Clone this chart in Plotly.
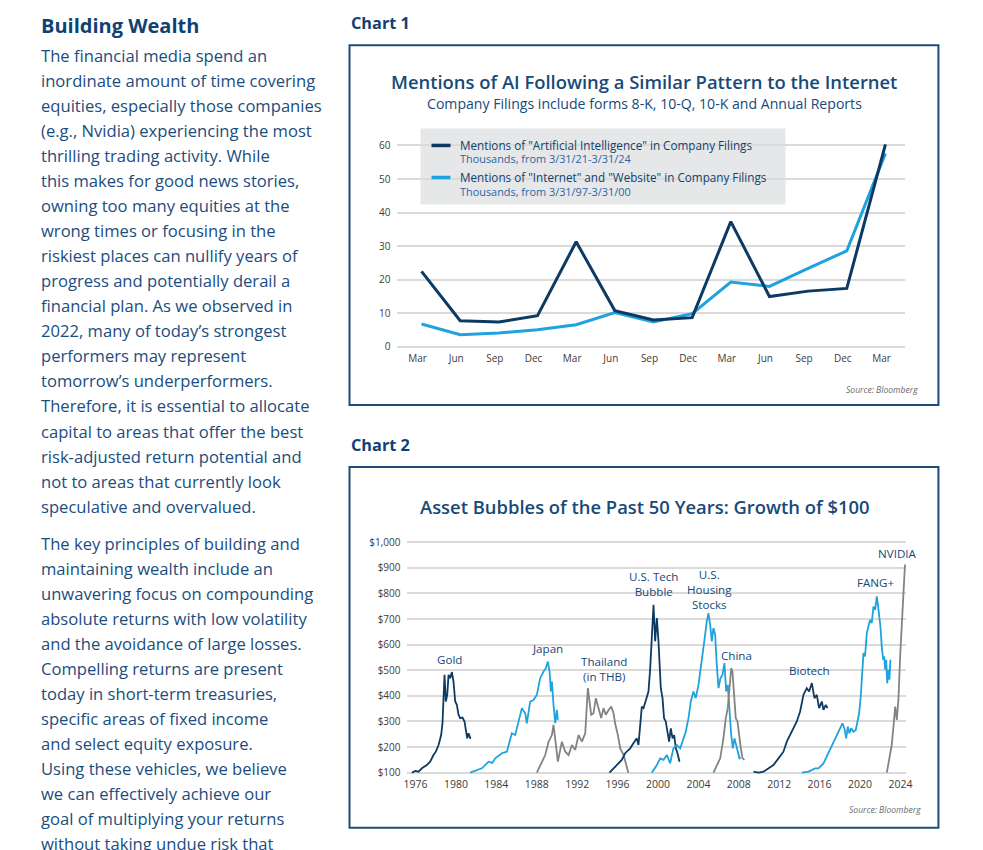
import plotly.graph_objects as go

W, H = 983, 850
FONT = "Open Sans"
NAVY = "#0d3a62"
LIGHT = "#1fa3de"
GRAY = "#838383"
TXT = "#1b4d7e"
TITLE = "#174a78"
BORDER = "#1f4c78"
GRID = "#dadada"
TICK = "#3c3c3c"

# ---------------- Chart 1 data ----------------
c1_labels = ["Mar", "Jun", "Sep", "Dec", "Mar", "Jun", "Sep", "Dec", "Mar", "Jun", "Sep", "Dec", "Mar"]
ai_mentions = [22.5, 7.8, 7.4, 9.3, 31.3, 10.8, 8.0, 8.7, 37.3, 15.0, 16.6, 17.4, 60.3]
internet_mentions = [6.8, 3.6, 4.1, 5.1, 6.6, 10.2, 7.4, 9.9, 19.3, 18.0, 23.4, 28.6, 57.6]
ai_name = 'Mentions of "Artificial Intelligence" in Company Filings'
ai_sub = "Thousands, from 3/31/21-3/31/24"
net_name = 'Mentions of "Internet" and "Website" in Company Filings'
net_sub = "Thousands, from 3/31/97-3/31/00"

# ---------------- Chart 2 data (growth of $100) ----------------
gold_x = [1975.64, 1975.97, 1976.30, 1976.63, 1977.12, 1977.45, 1977.78, 1978.01, 1978.28, 1978.54, 1978.67,
          1978.87, 1979.00, 1979.14, 1979.27, 1979.43, 1979.60, 1979.76, 1979.93, 1980.09, 1980.26, 1980.42,
          1980.65, 1980.85, 1980.98, 1981.12, 1981.25, 1981.45]
gold_y = [100, 107, 104, 117, 130, 143, 169, 182, 208, 247, 293,
          482, 378, 404, 482, 469, 493, 456, 378, 365, 326, 313,
          315, 300, 267, 234, 254, 232]

japan_x = [1981.41, 1981.9, 1982.57, 1983.23, 1983.6, 1983.89, 1984.55, 1985.04, 1985.21, 1985.54, 1985.87,
           1986.20, 1986.53, 1986.86, 1987.02, 1987.35, 1987.68, 1988.01, 1988.34, 1988.67, 1988.90,
           1989.10, 1989.27, 1989.40, 1989.50, 1989.66, 1989.83, 1989.99, 1990.09]
japan_y = [100, 108, 117, 143, 138, 156, 176, 182, 208, 254, 247,
           300, 352, 332, 293, 378, 384, 404, 469, 495, 508,
           534, 495, 417, 456, 365, 293, 345, 306]

thai_x = [1988.01, 1988.51, 1988.84, 1989.17, 1989.50, 1989.66, 1989.89, 1990.09, 1990.49, 1990.82, 1991.15,
          1991.48, 1991.81, 1992.14, 1992.47, 1992.80, 1993.06, 1993.19, 1993.39, 1993.62, 1993.85, 1994.12,
          1994.38, 1994.61, 1994.84, 1995.11, 1995.37, 1995.60, 1995.77, 1996.03, 1996.26, 1996.59, 1996.80,
          1997.07]
thai_y = [100, 143, 169, 221, 247, 287, 221, 143, 221, 182, 169,
          208, 189, 247, 221, 254, 430, 391, 326, 332, 391, 352,
          313, 352, 326, 345, 358, 332, 290, 247, 195, 170, 140,
          100]

tech_x = [1995.2, 1995.93, 1996.42, 1996.75, 1997.25, 1997.57, 1997.9, 1998.07, 1998.24, 1998.4, 1998.57,
          1998.9, 1999.06, 1999.23, 1999.39, 1999.56, 1999.72, 1999.89, 2000.05, 2000.15, 2000.28, 2000.45,
          2000.6, 2000.77, 2000.94, 2001.1, 2001.27, 2001.44, 2001.6, 2001.77, 2001.93, 2002.13]
tech_y = [100, 130, 150, 176, 195, 215, 234, 208, 273, 358, 352,
          391, 417, 508, 639, 756, 613, 704, 613, 547, 430, 391,
          313, 300, 260, 221, 273, 234, 247, 195, 176, 143]

housing_x = [1999.39, 1999.89, 2000.22, 2000.55, 2000.88, 2001.2, 2001.53, 2001.86, 2002.2, 2002.52, 2002.75,
             2003.02, 2003.25, 2003.51, 2003.74, 2004.01, 2004.24, 2004.5, 2004.67, 2004.83, 2005.0, 2005.16,
             2005.33, 2005.49, 2005.66, 2005.82, 2005.99, 2006.19, 2006.38, 2006.58, 2006.75, 2006.91, 2007.08,
             2007.25, 2007.41, 2007.57, 2007.74, 2007.9, 2008.07, 2008.2]
housing_y = [100, 130, 156, 150, 169, 137, 195, 208, 195, 234, 260,
             313, 378, 417, 391, 443, 508, 573, 639, 691, 723, 678,
             613, 665, 639, 521, 430, 469, 482, 528, 417, 443, 326,
             247, 195, 234, 208, 182, 156, 159]

china_x = [2005.49, 2005.82, 2006.16, 2006.48, 2006.71, 2006.91, 2007.08, 2007.25, 2007.37, 2007.54, 2007.7,
           2007.87, 2008.04, 2008.2, 2008.37, 2008.56]
china_y = [100, 130, 156, 234, 313, 352, 443, 508, 495, 417, 313,
           300, 234, 195, 156, 150]

biotech_x = [2009.45, 2009.95, 2010.44, 2010.94, 2011.43, 2011.93, 2012.42, 2012.75, 2013.08, 2013.41, 2013.74,
             2014.07, 2014.40, 2014.73, 2014.96, 2015.23, 2015.49, 2015.72, 2015.95, 2016.22, 2016.38, 2016.61,
             2016.78]
biotech_y = [104, 100, 104, 117, 130, 156, 182, 221, 247, 274, 300,
             339, 404, 430, 417, 450, 391, 404, 352, 378, 345, 365,
             352]

fang_x = [2014.24, 2014.90, 2015.56, 2015.89, 2016.38, 2016.71, 2017.04, 2017.37, 2017.6, 2017.86, 2018.1,
          2018.26, 2018.46, 2018.63, 2018.79, 2018.95, 2019.12, 2019.35, 2019.58, 2019.78, 2019.91, 2020.07,
          2020.24, 2020.34, 2020.5, 2020.67, 2020.83, 2021.0, 2021.16, 2021.33, 2021.5, 2021.66, 2021.75,
          2021.89, 2022.02, 2022.15, 2022.29, 2022.39, 2022.49, 2022.59, 2022.69, 2022.81, 2022.91, 2023.01]
fang_y = [100, 104, 117, 117, 136, 163, 189, 215, 234, 260, 280,
          293, 273, 234, 280, 254, 273, 260, 267, 306, 332, 397,
          488, 567, 554, 645, 671, 697, 684, 749, 736, 789, 762,
          723, 671, 593, 541, 554, 502, 541, 449, 502, 463, 541]

nvda_x = [2022.65, 2022.81, 2022.98, 2023.14, 2023.31, 2023.48, 2023.64, 2023.8, 2023.97, 2024.07, 2024.2,
          2024.3, 2024.4, 2024.45]
nvda_y = [100, 136, 189, 208, 280, 358, 306, 384, 554, 632, 697,
          815, 906, 913]

bubbles = [
    ("Gold", gold_x, gold_y, NAVY),
    ("Japan", japan_x, japan_y, LIGHT),
    ("Thailand<br>(in THB)", thai_x, thai_y, GRAY),
    ("U.S. Tech<br>Bubble", tech_x, tech_y, NAVY),
    ("U.S.<br>Housing<br>Stocks", housing_x, housing_y, LIGHT),
    ("China", china_x, china_y, GRAY),
    ("Biotech", biotech_x, biotech_y, NAVY),
    ("FANG+", fang_x, fang_y, LIGHT),
    ("NVIDIA", nvda_x, nvda_y, GRAY),
]
# label placement (year, value) for each bubble label
label_pos = {
    "Gold": (1979.36, 542), "Japan": (1989.06, 585), "Thailand<br>(in THB)": (1994.61, 505),
    "U.S. Tech<br>Bubble": (1999.55, 836), "U.S.<br>Housing<br>Stocks": (2005.1, 816),
    "China": (2007.77, 558), "Biotech": (2015.0, 499), "FANG+": (2021.53, 842), "NVIDIA": (2023.7, 957),
}

c2_years = list(range(1976, 2025, 4))
c2_vals = list(range(100, 1001, 100))
c2_valtext = ["${:,}".format(v) for v in c2_vals]

# ---------------- body text ----------------
heading = "Building Wealth"
para1 = ["The financial media spend an", "inordinate amount of time covering",
         "equities, especially those companies", "(e.g., Nvidia) experiencing the most",
         "thrilling trading activity. While", "this makes for good news stories,",
         "owning too many equities at the", "wrong times or focusing in the",
         "riskiest places can nullify years of", "progress and potentially derail a",
         "financial plan. As we observed in", "2022, many of today\u2019s strongest",
         "performers may represent", "tomorrow\u2019s underperformers.",
         "Therefore, it is essential to allocate", "capital to areas that offer the best",
         "risk-adjusted return potential and", "not to areas that currently look",
         "speculative and overvalued."]
para2 = ["The key principles of building and", "maintaining wealth include an",
         "unwavering focus on compounding", "absolute returns with low volatility",
         "and the avoidance of large losses.", "Compelling returns are present",
         "today in short-term treasuries,", "specific areas of fixed income",
         "and select equity exposure.", "Using these vehicles, we believe",
         "we can effectively achieve our", "goal of multiplying your returns",
         "without taking undue risk that"]

# pixel -> paper helpers (with a small correction for the observed render scale)
SX, CX = 0.991, 491.5
SY, CY = 0.991, 425.0


def fx(p):
    return (CX + (p - CX) / SX) / W


def fy(p):
    return 1 - (CY + (p - CY) / SY) / H


fig = go.Figure()

# Chart 1 traces
xs = list(range(len(c1_labels)))
fig.add_trace(go.Scatter(x=xs, y=internet_mentions, mode="lines", line=dict(color=LIGHT, width=3),
                         name=net_name, xaxis="x", yaxis="y", hoverinfo="skip"))
fig.add_trace(go.Scatter(x=xs, y=ai_mentions, mode="lines", line=dict(color=NAVY, width=3),
                         name=ai_name, xaxis="x", yaxis="y", hoverinfo="skip"))

# Chart 2 traces
for name, bx, by, col in bubbles:
    fig.add_trace(go.Scatter(x=bx, y=by, mode="lines", line=dict(color=col, width=1.8),
                             name=name, xaxis="x2", yaxis="y2", hoverinfo="skip"))

annotations = []
shapes = []

# left column text
annotations.append(dict(text=heading, x=fx(40), y=fy(25), xref="paper", yref="paper", xanchor="left",
                        yanchor="middle", showarrow=False,
                        font=dict(family=FONT, size=20, color="#0f4272", weight=700)))
for i, line in enumerate(para1):
    annotations.append(dict(text=line, x=fx(40), y=fy(55 + 25 * i), xref="paper", yref="paper",
                            xanchor="left", yanchor="middle", showarrow=False,
                            font=dict(family=FONT, size=16.6, color=TXT)))
for i, line in enumerate(para2):
    annotations.append(dict(text=line, x=fx(40), y=fy(542 + 25 * i), xref="paper", yref="paper",
                            xanchor="left", yanchor="middle", showarrow=False,
                            font=dict(family=FONT, size=16.6, color=TXT)))

# chart headers
for lbl, yy in (("Chart 1", 23), ("Chart 2", 444)):
    annotations.append(dict(text=lbl, x=fx(350), y=fy(yy), xref="paper", yref="paper", xanchor="left",
                            yanchor="middle", showarrow=False,
                            font=dict(family=FONT, size=16.3, color="#0f4272", weight=700)))

# frames
for y0, y1 in ((45, 404), (466, 826)):
    shapes.append(dict(type="rect", xref="paper", yref="paper", x0=fx(351), x1=fx(940), y0=fy(y0), y1=fy(y1),
                       line=dict(color=BORDER, width=2), fillcolor="rgba(0,0,0,0)", layer="above"))

# chart titles
annotations.append(dict(text="Mentions of AI Following a Similar Pattern to the Internet", x=fx(646), y=fy(81),
                        xref="paper", yref="paper", xanchor="center", yanchor="middle", showarrow=False,
                        font=dict(family=FONT, size=18.4, color=TITLE, weight=600)))
annotations.append(dict(text="Company Filings include forms 8-K, 10-Q, 10-K and Annual Reports", x=fx(646),
                        y=fy(103), xref="paper", yref="paper", xanchor="center", yanchor="middle",
                        showarrow=False, font=dict(family=FONT, size=14.1, color=TITLE)))
annotations.append(dict(text="Asset Bubbles of the Past 50 Years: Growth of $100", x=fx(646), y=fy(505),
                        xref="paper", yref="paper", xanchor="center", yanchor="middle", showarrow=False,
                        font=dict(family=FONT, size=18.4, color=TITLE, weight=600)))

# sources
annotations.append(dict(text="<i>Source: Bloomberg</i>", x=fx(922), y=fy(389), xref="paper", yref="paper",
                        xanchor="right", yanchor="middle", showarrow=False,
                        font=dict(family=FONT, size=8.6, color="#6b6b6b")))
annotations.append(dict(text="<i>Source: Bloomberg</i>", x=fx(925), y=fy(808), xref="paper", yref="paper",
                        xanchor="right", yanchor="middle", showarrow=False,
                        font=dict(family=FONT, size=8.6, color="#6b6b6b")))

# chart 1 manual legend
shapes.append(dict(type="rect", xref="paper", yref="paper", x0=fx(422), x1=fx(787), y0=fy(128), y1=fy(204),
                   line=dict(width=0), fillcolor="#e6e7e8", layer="between"))
for (nm, sub, col), yy in zip(((ai_name, ai_sub, NAVY), (net_name, net_sub, LIGHT)), (145, 177)):
    shapes.append(dict(type="line", xref="paper", yref="paper", x0=fx(433), x1=fx(452), y0=fy(yy), y1=fy(yy),
                       line=dict(color=col, width=3.5), layer="above"))
    annotations.append(dict(text=nm, x=fx(459), y=fy(yy - 0.5), xref="paper", yref="paper", xanchor="left",
                            yanchor="middle", showarrow=False, font=dict(family=FONT, size=11.7, color="#123f6b")))
    annotations.append(dict(text=sub, x=fx(459), y=fy(yy + 13.5), xref="paper", yref="paper", xanchor="left",
                            yanchor="middle", showarrow=False, font=dict(family=FONT, size=10.9, color="#2a66a0")))

# chart 2 bubble labels
for name, bx, by, col in bubbles:
    lx, ly = label_pos[name]
    annotations.append(dict(text=name, x=lx, y=ly, xref="x2", yref="y2", xanchor="center", yanchor="middle",
                            showarrow=False, font=dict(family=FONT, size=11.6, color="#164878")))

fig.update_layout(
    width=W, height=H, margin=dict(l=0, r=0, t=0, b=0),
    paper_bgcolor="white", plot_bgcolor="white", showlegend=False,
    font=dict(family=FONT, color=TICK),
    annotations=annotations, shapes=shapes,
    xaxis=dict(domain=[fx(398), fx(907)], range=[-0.647, 12.517], tickvals=xs, ticktext=c1_labels,
               showgrid=False, zeroline=False, showline=False, ticks="", ticklabelshift=-4,
               tickfont=dict(family=FONT, size=10, color=TICK), anchor="y", fixedrange=True),
    yaxis=dict(domain=[fy(350), fy(138)], range=[-1.194, 62.09], tickvals=[0, 10, 20, 30, 40, 50, 60],
               showgrid=True, gridcolor=GRID, gridwidth=1.5, zeroline=False, showline=False, ticks="",
               ticklabelstandoff=5, tickfont=dict(family=FONT, size=10, color=TICK), anchor="x", fixedrange=True),
    xaxis2=dict(domain=[fx(408), fx(908)], range=[1975.109, 2024.594], tickvals=c2_years,
                showgrid=False, zeroline=False, showline=False, ticks="",
                tickfont=dict(family=FONT, size=10.5, color=TICK), anchor="y2", fixedrange=True),
    yaxis2=dict(domain=[fy(775), fy(538)], range=[84.35, 1011.7], tickvals=c2_vals, ticktext=c2_valtext,
                showgrid=True, gridcolor=GRID, gridwidth=2, zeroline=False, showline=False,
                ticks="", ticklabelstandoff=5, tickfont=dict(family=FONT, size=10, color=TICK),
                anchor="x2", fixedrange=True),
)

fig.write_html("out.html", config={"displayModeBar": False},
               post_script="document.body.style.margin='0';document.body.style.overflow='hidden';")
